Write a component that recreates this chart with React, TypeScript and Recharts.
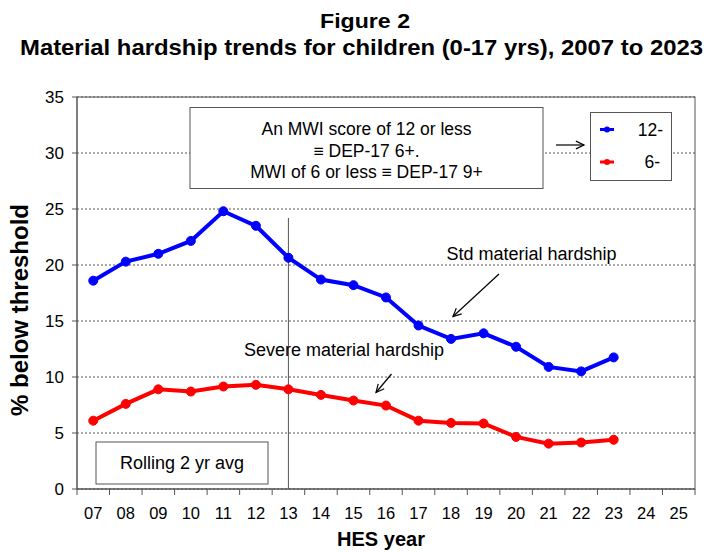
import React from 'react';
import {
  LineChart, Line, XAxis, YAxis, CartesianGrid, ReferenceLine,
} from 'recharts';

// HES survey years (two-digit), 07 through 25
const years = ['07', '08', '09', '10', '11', '12', '13', '14', '15', '16', '17', '18', '19', '20', '21', '22', '23', '24', '25'];

// MWI 12 or less (standard material hardship), rolling 2 yr avg
const stdHardship = [18.6, 20.3, 21.0, 22.15, 24.8, 23.5, 20.65, 18.7, 18.2, 17.1, 14.6, 13.4, 13.9, 12.7, 10.9, 10.5, 11.75, null, null];

// MWI 6 or less (severe material hardship), rolling 2 yr avg
const severeHardship = [6.1, 7.6, 8.9, 8.7, 9.15, 9.3, 8.9, 8.4, 7.9, 7.45, 6.1, 5.9, 5.85, 4.65, 4.05, 4.15, 4.4, null, null];

const yTicks = [0, 5, 10, 15, 20, 25, 30, 35];

const seriesKeys = [
  { key: 'std', label: '12-', color: '#0000ff' },
  { key: 'severe', label: '6-', color: '#ff0000' },
];

const chartData = years.map((year, i) => ({
  year,
  std: stdHardship[i],
  severe: severeHardship[i],
}));

const FONT = '"Liberation Sans", Arial, sans-serif';
const AXIS = '#555';

const W = 708;
const H = 552;
const PLOT_LEFT = 77;
const PLOT_RIGHT = 695;
const PLOT_TOP = 97;
const PLOT_BOTTOM = 489;
const BAND = (PLOT_RIGHT - PLOT_LEFT) / years.length;

// category label in the middle of each band, tick marks on the band edges
const YearTick = (props: any) => {
  const { x, y, payload, index } = props;
  const last = index === years.length - 1;
  return (
    <g>
      <line x1={x - BAND / 2} y1={y} x2={x - BAND / 2} y2={y + 6} stroke={AXIS} />
      {last && <line x1={x + BAND / 2} y1={y} x2={x + BAND / 2} y2={y + 6} stroke={AXIS} />}
      <text x={x} y={y + 29.5} textAnchor="middle" fontSize={16.5} fill="#000" fontFamily={FONT}>
        {payload.value}
      </text>
    </g>
  );
};

const Arrow = ({ x1, y1, x2, y2 }: { x1: number; y1: number; x2: number; y2: number }) => {
  const a = Math.atan2(y2 - y1, x2 - x1);
  const h = 9;
  const p1 = [x2 - h * Math.cos(a - 0.45), y2 - h * Math.sin(a - 0.45)];
  const p2 = [x2 - h * Math.cos(a + 0.45), y2 - h * Math.sin(a + 0.45)];
  return (
    <g stroke="#000" strokeWidth={1.2} fill="none">
      <line x1={x1} y1={y1} x2={x2} y2={y2} />
      <polyline points={`${p1[0]},${p1[1]} ${x2},${y2} ${p2[0]},${p2[1]}`} />
    </g>
  );
};

export default function App() {
  return (
    <div style={{ position: 'absolute', left: 0, top: 0, width: W, height: H, background: '#fff', fontFamily: FONT }}>
      <LineChart
        width={W}
        height={H}
        data={chartData}
        margin={{ top: PLOT_TOP, right: W - PLOT_RIGHT, bottom: 0, left: 0 }}
      >
        <CartesianGrid vertical={false} stroke="#555" strokeDasharray="2 2" />
        <XAxis
          dataKey="year"
          type="category"
          scale="band"
          height={H - PLOT_BOTTOM}
          axisLine={{ stroke: AXIS }}
          tickLine={false}
          tickSize={0}
          tickMargin={0}
          interval={0}
          tick={<YearTick />}
        />
        <YAxis
          width={PLOT_LEFT}
          domain={[0, 35]}
          ticks={yTicks}
          interval={0}
          axisLine={{ stroke: AXIS }}
          tickLine={{ stroke: AXIS }}
          tickSize={5}
          tickMargin={8}
          tick={{ fontSize: 17, fill: '#000', fontFamily: FONT }}
        />
        <ReferenceLine
          segment={[{ x: '13', y: 0 }, { x: '13', y: 24.2 }]}
          stroke={AXIS}
          strokeWidth={1}
        />
        {seriesKeys.map((s) => (
          <Line
            key={s.key}
            dataKey={s.key}
            name={s.label}
            stroke={s.color}
            strokeWidth={4}
            dot={{ r: 4.5, fill: s.color, stroke: s.color, strokeWidth: 1 }}
            isAnimationActive={false}
            connectNulls={false}
          />
        ))}
      </LineChart>

      <svg
        width={W}
        height={H}
        style={{ position: 'absolute', left: 0, top: 0, pointerEvents: 'none' }}
        fontFamily={FONT}
      >
        {/* plot frame */}
        <rect x={PLOT_LEFT} y={PLOT_TOP} width={PLOT_RIGHT - PLOT_LEFT} height={PLOT_BOTTOM - PLOT_TOP} fill="none" stroke={AXIS} />

        {/* titles */}
        <text x={365} y={28} textAnchor="middle" fontSize={21} fontWeight="bold" textLength={90} lengthAdjust="spacingAndGlyphs">Figure 2</text>
        <text x={361.5} y={55} textAnchor="middle" fontSize={22} fontWeight="bold" textLength={683} lengthAdjust="spacingAndGlyphs">
          Material hardship trends for children (0-17 yrs), 2007 to 2023
        </text>

        {/* axis titles */}
        <text x={0} y={0} transform="translate(28,310) rotate(-90)" textAnchor="middle" fontSize={24} fontWeight="bold">
          % below threshold
        </text>
        <text x={381} y={546} textAnchor="middle" fontSize={20} fontWeight="bold">HES year</text>

        {/* MWI note */}
        <rect x={190} y={107.5} width={353} height={81} fill="#fff" stroke={AXIS} />
        <text x={366.5} y={135} textAnchor="middle" fontSize={17.5}>An MWI score of 12 or less</text>
        <text x={366.5} y={156.5} textAnchor="middle" fontSize={17.5}>≡ DEP-17 6+.</text>
        <text x={366.5} y={177.5} textAnchor="middle" fontSize={17.5}>MWI of 6 or less ≡ DEP-17 9+</text>
        <Arrow x1={556} y1={145} x2={584} y2={145} />

        {/* legend */}
        <g transform="translate(590,112)">
          <rect x={0.5} y={0.5} width={81} height={68} fill="#fff" stroke={AXIS} />
          {seriesKeys.map((s, i) => (
            <g key={s.key}>
              <line x1={10} y1={17.5 + i * 32.5} x2={24} y2={17.5 + i * 32.5} stroke={s.color} strokeWidth={3} />
              <circle cx={17} cy={17.5 + i * 32.5} r={3} fill={s.color} />
              <text x={i === 0 ? 73 : 70} y={23.5 + i * 32.5} textAnchor="end" fontSize={17.5}>{s.label}</text>
            </g>
          ))}
        </g>

        {/* series notes */}
        <text x={446.5} y={260} fontSize={18}>Std material hardship</text>
        <Arrow x1={499} y1={274} x2={453} y2={316.5} />
        <text x={244} y={356} fontSize={18}>Severe material hardship</text>
        <Arrow x1={391.5} y1={374} x2={376} y2={392.5} />

        <rect x={96} y={442} width={172} height={42} fill="#fff" stroke={AXIS} />
        <text x={182} y={468.5} textAnchor="middle" fontSize={18}>Rolling 2 yr avg</text>
      </svg>
    </div>
  );
}
